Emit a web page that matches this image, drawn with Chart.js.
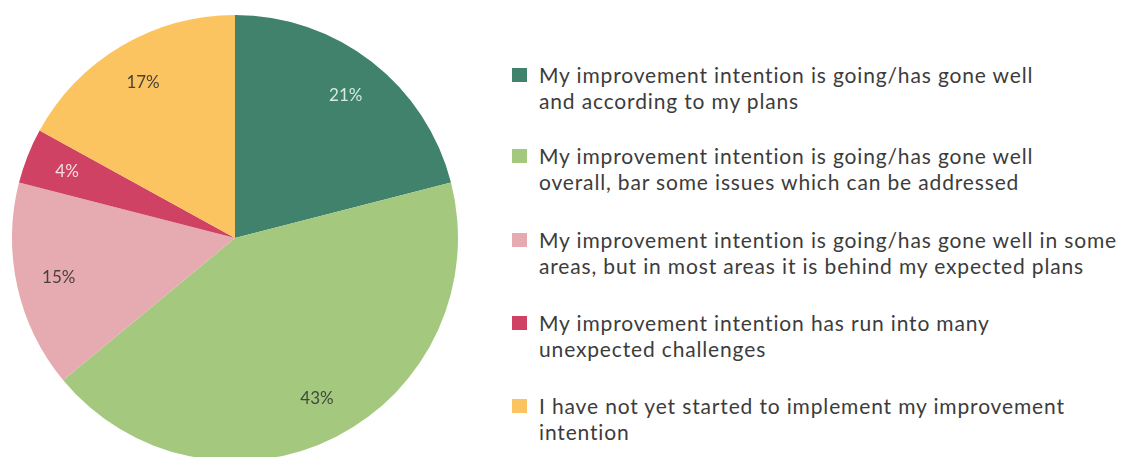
<!DOCTYPE html>
<html>
<head>
<meta charset="utf-8">
<script src="https://cdn.jsdelivr.net/npm/chart.js@4"></script>
<style>
    html, body { margin: 0; padding: 0; background: #fff; overflow: hidden; }
    body { width: 1122px; height: 457px; position: relative; }
    #pieBox { position: absolute; left: 0; top: 0; width: 470px; height: 476px; }
    #legend { position: absolute; left: 511px; top: 0; margin: 0; padding: 0; list-style: none;
        font-family: "Lato", sans-serif; font-size: 21px; letter-spacing: 0.85px; color: #3c3c3c; }
    #legend li { position: absolute; left: 0; width: 610px; padding-left: 28px; line-height: 26px; white-space: nowrap; }
    #legend li span.box { position: absolute; left: 1px; top: 6px; width: 15px; height: 14px; }
</style>
</head>
<body>
<div id="pieBox"><canvas id="pieChart"></canvas></div>
<ul id="legend"></ul>
<script>
(function () {
    "use strict";

    // Data
    const categories = [
        ["My improvement intention is going/has gone well", "and according to my plans"],
        ["My improvement intention is going/has gone well", "overall, bar some issues which can be addressed"],
        ["My improvement intention is going/has gone well in some", "areas, but in most areas it is behind my expected plans"],
        ["My improvement intention has run into many", "unexpected challenges"],
        ["I have not yet started to implement my improvement", "intention"],
    ];
    const shares = [21, 43, 15, 4, 17];
    const sliceColors = ["#40826c", "#a4c97e", "#e6abb1", "#cf4264", "#fcc461"];
    const labelColors = ["#d4ebde", "#3d4a3a", "#4a4040", "#f6dde3", "#4a4236"];

    // Percent labels inside slices
    const sliceLabels = {
        id: "sliceLabels",
        afterDatasetsDraw(chart) {
            const ctx = chart.ctx;
            const meta = chart.getDatasetMeta(0);
            ctx.save();
            ctx.font = "17px Lato, sans-serif";
            ctx.textAlign = "center";
            ctx.textBaseline = "middle";
            meta.data.forEach((arc, i) => {
                const p = arc.getProps(["x", "y", "startAngle", "endAngle", "outerRadius"], true);
                const mid = (p.startAngle + p.endAngle) / 2;
                const r = p.outerRadius * 0.81;
                ctx.fillStyle = labelColors[i];
                ctx.fillText(shares[i] + "%", p.x + Math.cos(mid) * r, p.y + Math.sin(mid) * r);
            });
            ctx.restore();
        },
    };

    const ctx = document.getElementById("pieChart").getContext("2d");
    new Chart(ctx, {
        type: "pie",
        data: {
            labels: categories.map((c) => c.join(" ")),
            datasets: [
                {
                    data: shares,
                    backgroundColor: sliceColors,
                    borderWidth: 0,
                },
            ],
        },
        options: {
            responsive: true,
            maintainAspectRatio: false,
            animation: false,
            layout: {
                padding: { left: 12, right: 12, top: 15, bottom: 15 },
            },
            plugins: {
                legend: { display: false },
                tooltip: { enabled: false },
            },
        },
        plugins: [sliceLabels],
    });

    // Legend
    const legendTops = [62, 143, 227, 310, 393];
    const legend = document.getElementById("legend");
    categories.forEach((lines, i) => {
        const li = document.createElement("li");
        li.style.top = legendTops[i] + "px";
        const box = document.createElement("span");
        box.className = "box";
        box.style.background = sliceColors[i];
        li.appendChild(box);
        lines.forEach((line, j) => {
            if (j > 0) li.appendChild(document.createElement("br"));
            li.appendChild(document.createTextNode(line));
        });
        legend.appendChild(li);
    });
})();
</script>
</body>
</html>
